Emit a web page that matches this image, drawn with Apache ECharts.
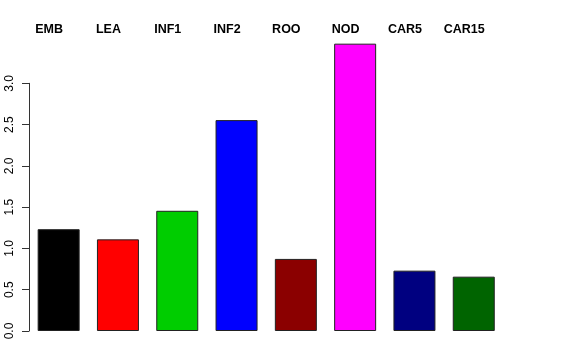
<!DOCTYPE html>
<html>
<head>
<meta charset="utf-8">
<script src="https://cdn.jsdelivr.net/npm/echarts@6/dist/echarts.min.js"></script>
<style>html,body{margin:0;padding:0;background:#fff;}#c{width:576px;height:360px;}</style>
</head>
<body>
<div id="c"></div>
<script>
var categories = ['EMB', 'LEA', 'INF1', 'INF2', 'ROO', 'NOD', 'CAR5', 'CAR15'];
var values = [1.233, 1.11, 1.456, 2.554, 0.873, 3.48, 0.731, 0.658];
var barColors = ['#000000', '#FF0000', '#00CD00', '#0000FF', '#8B0000', '#FF00FF', '#000080', '#006400'];
var yTicks = [0, 0.5, 1, 1.5, 2, 2.5, 3];

var chart = echarts.init(document.getElementById('c'), null, {renderer: 'canvas'});
chart.setOption({
  animation: false,
  backgroundColor: '#ffffff',
  grid: {left: 29, width: 474.4, top: 83.3, bottom: 29},
  xAxis: [
    {type: 'category', data: categories, position: 'bottom',
     axisLine: {show: false}, axisTick: {show: false}, axisLabel: {show: false}},
    {type: 'category', data: categories, position: 'top',
     axisLine: {show: false}, axisTick: {show: false},
     axisLabel: {show: true, margin: 47, fontFamily: 'Liberation Sans', fontWeight: 'bold', fontSize: 12.5, color: '#000', padding: [0, 19, 0, 0]}}
  ],
  yAxis: {
    type: 'value', min: yTicks[0], max: yTicks[yTicks.length - 1], interval: 0.5,
    splitLine: {show: false},
    axisLine: {show: true, lineStyle: {color: '#333', width: 1}},
    axisTick: {show: true, length: 7, lineStyle: {color: '#333', width: 1}},
    axisLabel: {rotate: 90, margin: 13, fontFamily: 'Liberation Sans', fontSize: 12, color: '#000',
      formatter: function (v) { return v.toFixed(1); }}
  },
  series: [{
    type: 'bar', xAxisIndex: 0, clip: false, barWidth: 42,
    data: values.map(function (v, i) {
      return {value: v, itemStyle: {color: barColors[i]}};
    }),
    itemStyle: {borderColor: '#222', borderWidth: 1}
  }]
});
</script>
</body>
</html>
